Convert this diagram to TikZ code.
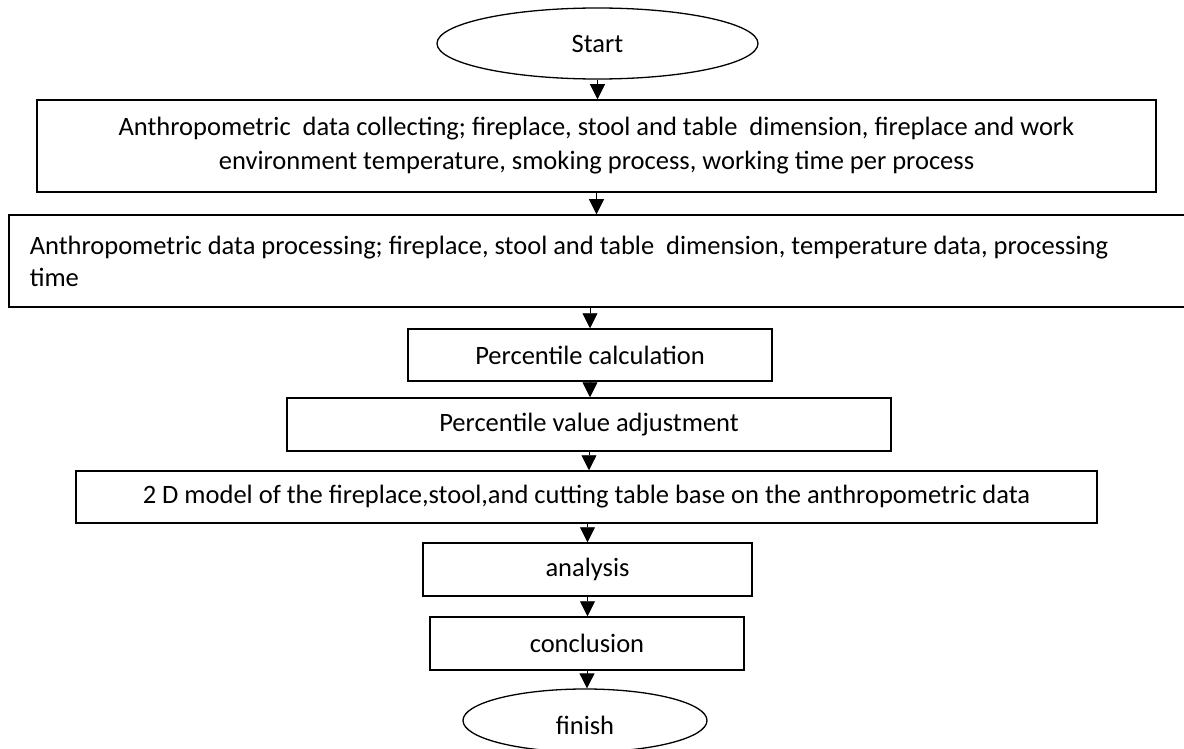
\documentclass[tikz,border=0pt]{standalone}
\usepackage{fontspec}
\setmainfont{Carlito}
\usetikzlibrary{arrows.meta,shapes.geometric}
\begin{document}
\begin{tikzpicture}[x=1pt,y=-1pt,
  every node/.style={font=\fontsize{26.5}{34}\selectfont},
  box/.style={draw, line width=1.5pt, inner sep=0pt, align=center},
  oval/.style={draw, ellipse, line width=1.3pt, inner sep=0pt},
  arr/.style={-{Triangle[width=15pt,length=15pt]}, line width=0.8pt}]
\clip (0,0) rectangle (1184,749);
\fill[white] (0,0) rectangle (1184,749);
\node[oval, minimum width=321pt, minimum height=71pt] (start) at (597.5,43.5) {Start};
\node[box, minimum width=1119pt, minimum height=92pt] (b1) at (596.5,146)
  {Anthropometric~ data collecting; fireplace, stool and table~ dimension, fireplace and work\\environment temperature, smoking process, working time per process};
\node[box, anchor=west, align=flush left, text width=1150pt, inner xsep=21pt, minimum height=92pt, font=\fontsize{26.5}{32}\selectfont] (b2) at (8,261)
  {Anthropometric data processing; fireplace, stool and table~ dimension, temperature data, processing\\time};
\node[box, minimum width=364pt, minimum height=52pt] (pc) at (590,355) {Percentile calculation};
\node[box, minimum width=604pt, minimum height=53pt] (pa) at (589,424.5) {Percentile value adjustment};
\node[box, minimum width=1021pt, minimum height=52pt] (m2) at (586.5,497) {2 D model of the fireplace,stool,and cutting table base on the anthropometric data};
\node[box, minimum width=329pt, minimum height=53pt] (an) at (587.5,569.5) {analysis};
\node[box, minimum width=314pt, minimum height=53pt] (co) at (587,643.5) {conclusion};
\node[oval, minimum width=244pt, minimum height=63pt] (fi) at (585,720.5) {};
\node[anchor=base, inner sep=0pt] (fit) at (585,734) {finish};
\draw[arr] (start.south) -- (start.south |- b1.north);
\draw[arr] (b1.south) -- (b1.south |- b2.north);
\draw[arr] (pc.north |- b2.south) -- (pc.north);
\draw[arr] (pc.south) -- (pc.south |- pa.north);
\draw[arr] (pa.south) -- (pa.south |- m2.north);
\draw[arr] (an.north |- m2.south) -- (an.north);
\draw[arr] (an.south) -- (an.south |- co.north);
\draw[arr] (co.south) -- (co.south |- fi.north);
\end{tikzpicture}
\end{document}
